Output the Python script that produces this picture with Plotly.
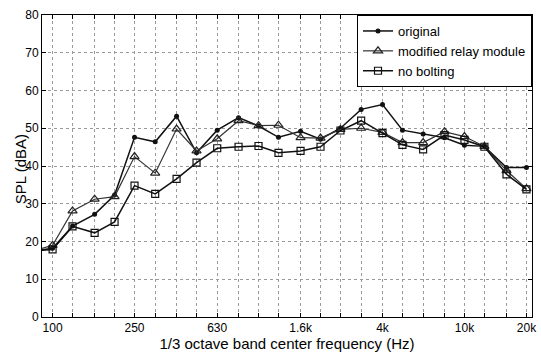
import plotly.graph_objects as go

freqs = [80, 100, 125, 160, 200, 250, 315, 400, 500, 630, 800, 1000, 1250, 1600,
         2000, 2500, 3150, 4000, 5000, 6300, 8000, 10000, 12500, 16000, 20000]
original = [17.5, 18.2, 24.1, 27.2, 32.3, 47.6, 46.4, 53.2, 43.5, 49.5, 52.8, 50.6, 47.6, 49.2,
            47.1, 50.0, 55.0, 56.3, 49.5, 48.5, 47.5, 45.5, 45.2, 39.6, 39.6]
modified = [17.5, 19.0, 28.1, 31.2, 31.9, 42.5, 38.1, 49.8, 44.0, 47.2, 52.0, 50.7, 50.8, 47.5,
            47.4, 49.7, 50.0, 48.9, 46.2, 46.2, 49.1, 47.8, 45.2, 38.8, 34.0]
no_bolting = [17.5, 17.9, 24.0, 22.3, 25.2, 34.8, 32.6, 36.6, 40.9, 44.7, 45.1, 45.3, 43.5, 44.0,
              45.1, 49.4, 52.0, 48.7, 45.6, 44.4, 48.2, 46.9, 45.1, 37.8, 33.8]

tick_freqs = freqs[1:]
tick_labels = ["100", "", "", "", "250", "", "", "", "630", "", "", "", "1.6k",
               "", "", "", "4k", "", "", "", "10k", "", "", "20k"]
y_ticks = [0, 10, 20, 30, 40, 50, 60, 70, 80]

FONT = "Liberation Sans, Arial, Helvetica, sans-serif"

fig = go.Figure()
fig.add_trace(go.Scatter(x=freqs, y=original, name="original", mode="lines+markers",
                         line=dict(color="#111", width=1.5),
                         marker=dict(symbol="circle", size=5, color="#111")))
fig.add_trace(go.Scatter(x=freqs, y=modified, name="modified relay module", mode="lines+markers",
                         line=dict(color="#333", width=1.2),
                         marker=dict(symbol="triangle-up-open", size=8, color="#222",
                                     line=dict(width=1.2))))
fig.add_trace(go.Scatter(x=freqs, y=no_bolting, name="no bolting", mode="lines+markers",
                         line=dict(color="#111", width=1.5),
                         marker=dict(symbol="square-open", size=7, color="#111",
                                     line=dict(width=1.2))))

fig.update_layout(
    width=541, height=358,
    margin=dict(l=42, r=4, t=15, b=41),
    paper_bgcolor="white", plot_bgcolor="white",
    font=dict(family=FONT, color="black", size=12),
    showlegend=True,
    legend=dict(x=1, xanchor="right", y=1, yanchor="top",
                bgcolor="white", bordercolor="black", borderwidth=1,
                font=dict(size=13, family=FONT), tracegroupgap=0,
                itemwidth=30),
    xaxis=dict(
        type="log",
        range=[1.9486, 4.328],
        tickvals=tick_freqs, ticktext=tick_labels,
        ticks="inside", ticklen=4, tickcolor="black",
        ticklabeloverflow="allow",
        showline=True, linecolor="black", linewidth=1, mirror="ticks",
        showgrid=True, gridcolor="#9a9a9a", griddash="dot", gridwidth=1,
        tickfont=dict(size=12),
        title=dict(text="1/3 octave band center frequency (Hz)", font=dict(size=15), standoff=2),
        zeroline=False,
    ),
    yaxis=dict(
        range=[0, 80],
        tickvals=y_ticks,
        ticks="inside", ticklen=4, tickcolor="black",
        showline=True, linecolor="black", linewidth=1, mirror="ticks",
        showgrid=True, gridcolor="#9a9a9a", griddash="dot", gridwidth=1,
        tickfont=dict(size=12),
        zeroline=False,
    ),
    annotations=[dict(text="SPL (dBA)", textangle=-90, xref="paper", yref="paper",
                      x=-0.0444, y=0.49, xanchor="center", yanchor="middle",
                      showarrow=False, font=dict(size=15, family=FONT, color="black"))],
)

fig.write_html("out.html")
